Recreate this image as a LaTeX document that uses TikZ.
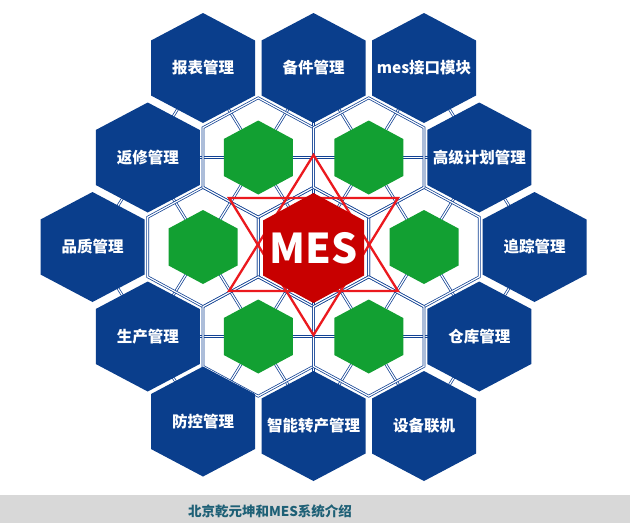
\documentclass[tikz,border=0pt]{standalone}
\usepackage{fontspec}
\setmainfont{Noto Sans CJK SC}
\definecolor{hexblue}{RGB}{10,62,140}
\definecolor{meshblue}{RGB}{18,66,148}
\definecolor{hexgreen}{RGB}{18,160,50}
\definecolor{mesred}{RGB}{200,0,0}
\definecolor{starred}{RGB}{235,25,30}
\definecolor{bargray}{RGB}{216,216,216}
\definecolor{barteal}{RGB}{30,96,118}
\newcommand{\hexshape}[2]{(0,-#2) -- (#1,-#2/2) -- (#1,#2/2) -- (0,#2) -- (-#1,#2/2) -- (-#1,-#2/2) -- cycle}
\tikzset{
  mesh/.style={draw=meshblue,line width=0.75pt,double=white,double distance=1.2pt},
  hextext/.style={text=white,inner sep=0pt,font=\bfseries\fontsize{15.5}{18}\selectfont},
}

\begin{document}
\begin{tikzpicture}[x=1pt,y=-1pt,
  declare function={gx(\m)=313.5+55.25*(\m); gy(\k)=247+89.5*(\k);}]
\useasboundingbox (0,0) rectangle (630,523);
\fill[white] (0,0) rectangle (630,523);

% mesh of double lines
\foreach \k/\a in {-2/2,-1/3,0/4,1/3,2/2}
  \draw[mesh] ({gx(-\a)},{gy(\k)}) -- ({gx(\a)},{gy(\k)});
\foreach \ma/\ka/\mb/\kb in {-4/0/-2/2, -3/-1/0/2, -2/-2/2/2, 0/-2/3/1, 2/-2/4/0,
                             -2/-2/-4/0, 0/-2/-3/1, 2/-2/-2/2, 3/-1/0/2, 4/0/2/2,
                             -2/-2/-2/2, 0/-2/0/2, 2/-2/2/2}
  \draw[mesh] ({gx(\ma)},{gy(\ka)}) -- ({gx(\mb)},{gy(\kb)});
\foreach \m/\k in {0/0,-2/0,2/0,-1/-1,1/-1,-1/1,1/1}
  \draw[mesh,shift={({gx(\m)},{gy(\k)})}] \hexshape{55.25}{59.67};

% outer ring
\foreach \name/\m/\k/\txt in {bb/-2/-2/报表管理, bj/0/-2/备件管理, jk/2/-2/mes接口模块,
    gj/3/-1/高级计划管理, zz/4/0/追踪管理, ck/3/1/仓库管理, sb/2/2/设备联机,
    zn/0/2/智能转产管理, fk/-2/1.95/防控管理, sc/-3/1/生产管理, pz/-4/0/品质管理,
    fx/-3/-1/返修管理}{
  \fill[hexblue,shift={({gx(\m)},{gy(\k)})}] \hexshape{52}{55};
  \node[hextext] (\name) at ({gx(\m)},{gy(\k)}) {\txt};
}

% inner ring
\foreach \m/\k in {-1/-1,1/-1,-2/0,2/0,-1/1,1/1}
  \fill[hexgreen,shift={({gx(\m)},{gy(\k)})}] \hexshape{34.5}{37};

% star and centre
\draw[starred,line width=2.3pt,line join=miter] (313.5,155) -- (229,291) -- (398,291) -- cycle;
\draw[starred,line width=2.3pt,line join=miter] (229,198) -- (398,198) -- (313.5,335) -- cycle;
\fill[mesred,shift={(313.5,248)}] \hexshape{50.5}{55};
\node[text=white,inner sep=0pt,font=\bfseries\fontsize{41}{45}\selectfont] (mes) at (313.5,248) {MES};

% caption bar
\fill[bargray] (0,495) rectangle (630,523);
\node[text=barteal,inner sep=0pt,font=\bfseries\fontsize{13.5}{16}\selectfont] (title) at (270,511) {北京乾元坤和MES系统介绍};
\end{tikzpicture}
\end{document}
